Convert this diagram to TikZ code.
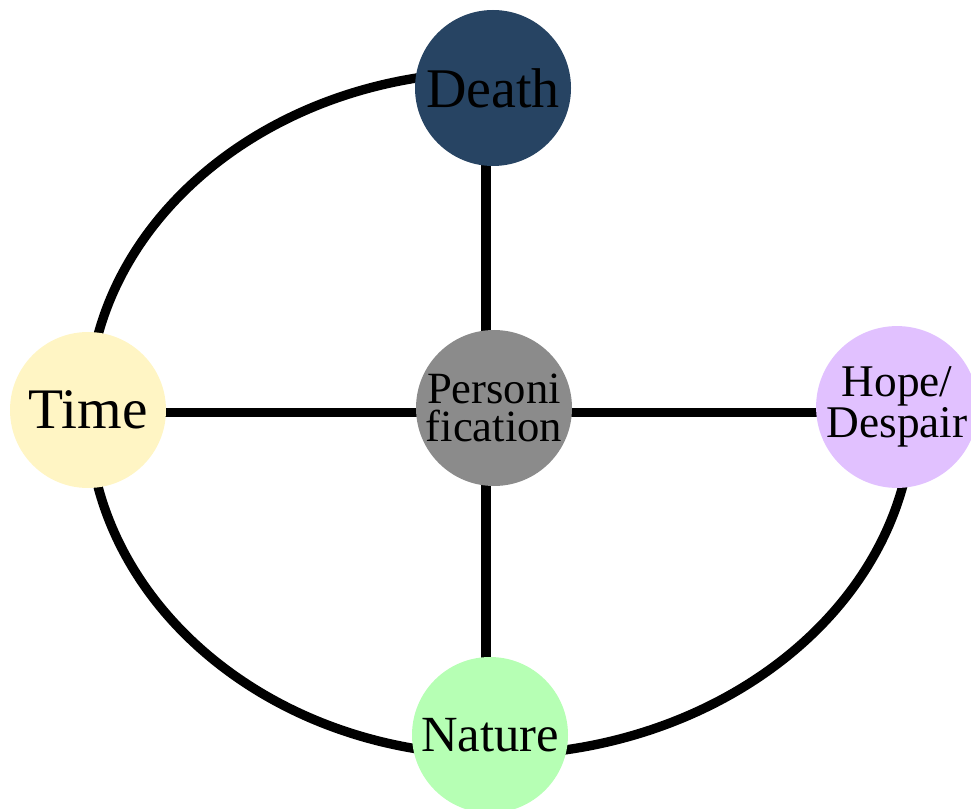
\documentclass[tikz,border=0pt]{standalone}
\usepackage{fontspec}
\setmainfont{Liberation Serif}
\usetikzlibrary{backgrounds}
\definecolor{deathc}{RGB}{39,68,99}
\definecolor{timec}{RGB}{255,245,196}
\definecolor{persc}{RGB}{139,139,139}
\definecolor{hopec}{RGB}{225,193,255}
\definecolor{naturec}{RGB}{182,255,180}
\begin{document}
\begin{tikzpicture}[x=0.75pt,y=-0.75pt,
  bubble/.style={circle, minimum size=117pt, inner sep=0pt, align=center, text=black},
  link/.style={line width=7pt, draw=black}]
\useasboundingbox (0,0) rectangle (971,809);
\node[bubble, fill=deathc, font=\fontsize{42}{42}\selectfont] (death) at (493,88) {Death};
\node[bubble, fill=timec, font=\fontsize{43}{43}\selectfont] (time) at (88,410) {Time};
\node[bubble, fill=persc, font=\fontsize{33.5}{29}\selectfont] (pers) at (494,408) {Personi\\fication};
\node[bubble, fill=hopec, font=\fontsize{34}{27}\selectfont] (hope) at (897,407) {Hope/\\Despair};
\node[bubble, fill=naturec, font=\fontsize{38}{38}\selectfont] (nature) at (490,735) {Nature};
\coordinate (vx) at (486,0);
\coordinate (hy) at (0,412.5);
\coordinate (ec) at (493,410);
\begin{scope}[on background layer]
\draw[link] (death.center -| vx) -- (pers.center -| vx);
\draw[link] (pers.center -| vx) -- (nature.center -| vx);
\draw[link] (time.center |- hy) -- (pers.center |- hy);
\draw[link] (pers.center |- hy) -- (hope.center |- hy);
\draw[link] (ec) ++(0,-338) arc[start angle=90, end angle=180, x radius=303.75pt, y radius=253.5pt];
\draw[link] (ec) ++(-405,0) arc[start angle=180, end angle=270, x radius=303.75pt, y radius=258.75pt];
\draw[link] (ec) ++(0,345) arc[start angle=270, end angle=360, x radius=315pt, y radius=258.75pt];
\end{scope}
\end{tikzpicture}
\end{document}
